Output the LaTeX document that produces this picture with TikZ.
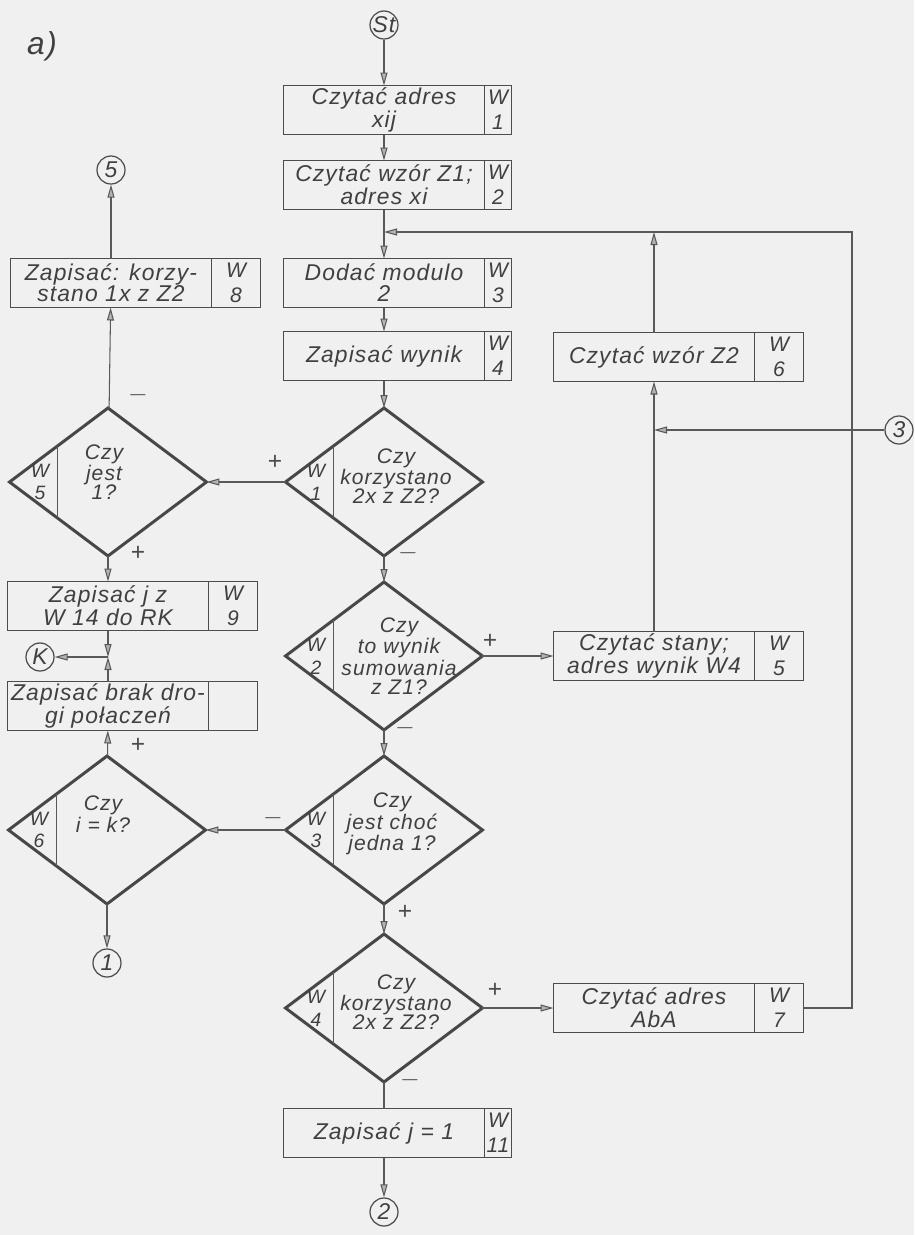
\documentclass[tikz,border=0pt]{standalone}
\usepackage{fontspec}
\setmainfont{Liberation Sans}[LetterSpace=5]
\usetikzlibrary{arrows.meta,positioning,shapes.geometric,calc}
\tikzset{
  hand/.style={font=\itshape\fontsize{13}{12}\selectfont,text=black!75},
  cellbox/.style={hand,rectangle,draw=black!70,line width=1.1pt,outer sep=0pt,minimum width=4.02cm,minimum height=0.98cm,align=center,inner sep=1pt},
  sidebox/.style={hand,font=\itshape\fontsize{12}{14}\selectfont,rectangle,draw=black!70,line width=1.1pt,outer sep=0pt,minimum width=0.98cm,minimum height=0.98cm,align=center,inner sep=0pt},
  narrowside/.style={sidebox,minimum width=0.54cm},
  decision/.style={diamond,draw=black!72,line width=1.7pt,outer sep=0pt,minimum width=3.94cm,minimum height=2.96cm,inner sep=0pt},
  asktext/.style={hand,font=\itshape\fontsize{12}{11}\selectfont,align=center,inner sep=0pt},
  wlabel/.style={hand,font=\itshape\fontsize{11}{13}\selectfont,align=center,inner sep=0pt},
  divider/.style={line width=0.8pt,draw=black!65},
  connector/.style={hand,circle,draw=black!70,line width=0.7pt,minimum size=0.56cm,inner sep=0pt},
  sign/.style={font=\fontsize{14}{14}\selectfont,text=black!70,inner sep=0pt},
  link/.style={line width=0.6pt,draw=black!65},
  arrow/.style={link,-{Triangle[length=2.6mm,width=1.4mm,fill=black!30]}}
}
\begin{document}
\begin{tikzpicture}[x=0.02cm,y=-0.02cm]
  \fill[black!6] (0,0) rectangle (914,1235);
  \useasboundingbox (0,0) rectangle (914,1235);

  \node[hand,font=\itshape\fontsize{18}{18}\selectfont] (fig) at (42,46) {a)};

  % main column
  \node[connector] (st) at (384,25) {St};
  \node[cellbox] (w1) at (384,110) {Czytać adres\\xij};
  \node[narrowside,right=0pt of w1] (w1s) {W\\1};
  \node[cellbox] (w2) at (384,185) {Czytać wzór Z1;\\adres xi};
  \node[narrowside,right=0pt of w2] (w2s) {W\\2};
  \coordinate (merge) at (384,232);
  \node[cellbox] (w3) at (384,283) {Dodać modulo\\2};
  \node[narrowside,right=0pt of w3] (w3s) {W\\3};
  \node[cellbox] (w4) at (384,356) {Zapisać wynik};
  \node[narrowside,right=0pt of w4] (w4s) {W\\4};

  \node[decision] (d1) at (384,482) {};
  \node[decision] (d2) at (384,656) {};
  \node[decision] (d3) at (384,830) {};
  \node[decision] (d4) at (384,1008) {};
  \node[cellbox] (w11) at (384,1133) {Zapisać j = 1};
  \node[narrowside,right=0pt of w11] (w11s) {W\\11};
  \node[connector] (c2) at (384,1212) {2};

  % left column
  \node[connector] (c5) at (111,170) {5};
  \node[cellbox] (w8) at (111,283) {Zapisać: korzy-\\stano 1x z Z2};
  \node[sidebox,right=0pt of w8] (w8s) {W\\8};
  \node[decision] (d5) at (108,482) {};
  \node[cellbox] (w9) at (108,606) {Zapisać j z\\W 14 do RK};
  \node[sidebox,right=0pt of w9] (w9s) {W\\9};
  \node[connector] (k) at (40,657) {K};
  \node[cellbox] (w10) at (108,706) {Zapisać brak dro-\\gi połaczeń};
  \node[sidebox,right=0pt of w10] (w10s) {};
  \node[decision] (d6) at (107,830) {};
  \node[connector] (c1) at (107,963) {1};

  % right column
  \node[cellbox] (w6) at (654,357) {Czytać wzór Z2};
  \node[sidebox,right=0pt of w6] (w6s) {W\\6};
  \node[connector] (c3) at (899,430) {3};
  \node[cellbox] (w5) at (654,656) {Czytać stany;\\adres wynik W4};
  \node[sidebox,right=0pt of w5] (w5s) {W\\5};
  \node[cellbox] (w7) at (654,1008) {Czytać adres\\AbA};
  \node[sidebox,right=0pt of w7] (w7s) {W\\7};
  \coordinate (rturn) at (852,1008);

  % diamond insides
  \foreach \d/\n in {d1/1,d2/2,d3/3,d4/4,d5/5,d6/6}{
    \draw[divider] ($(\d.west)!0.49!(\d.north)$) -- ($(\d.west)!0.49!(\d.south)$);
    \node[wlabel] (\d w) at ($(\d.center)+(-68,0)$) {W\\\n};
  }
  \node[asktext] (d1q) at ($(d1.center)+(12,-6)$) {Czy\\korzystano\\2x z Z2?};
  \node[asktext] (d2q) at ($(d2.center)+(15,0)$) {Czy\\to wynik\\sumowania\\z Z1?};
  \node[asktext] (d3q) at ($(d3.center)+(8,-6)$) {Czy\\jest choć\\jedna 1?};
  \node[asktext] (d4q) at ($(d4.center)+(12,-6)$) {Czy\\korzystano\\2x z Z2?};
  \node[asktext] (d5q) at ($(d5.center)+(-4,-10)$) {Czy\\jest\\1?};
  \node[asktext] (d6q) at ($(d6.center)+(-4,-16)$) {Czy\\i = k?};

  % signs
  \node[sign] (s1) at (275,462) {+};
  \node[sign] (s2) at (138,395) {$-$};
  \node[sign] (s3) at (138,553) {+};
  \node[sign] (s4) at (138,745) {+};
  \node[sign] (s5) at (408,553) {$-$};
  \node[sign] (s6) at (490,641) {+};
  \node[sign] (s7) at (405,728) {$-$};
  \node[sign] (s8) at (273,818) {$-$};
  \node[sign] (s9) at (405,912) {+};
  \node[sign] (s10) at (495,990) {+};
  \node[sign] (s11) at (410,1080) {$-$};

  % connections
  \draw[arrow] (st) -- (w1);
  \draw[arrow] (w1) -- (w2);
  \draw[link] (w2) -- (merge);
  \draw[arrow] (merge) -- (w3);
  \draw[arrow] (w3) -- (w4);
  \draw[arrow] (w4) -- (d1);
  \draw[arrow] (d1) -- (d5);
  \draw[arrow] (d5) -- (w8);
  \draw[arrow] (w8) -- (c5);
  \draw[arrow] (d5) -- (w9);
  \coordinate (kjoin) at (w9.south |- k);
  \draw[arrow] (w9) -- (kjoin);
  \draw[arrow] (w10) -- (kjoin);
  \draw[arrow] (kjoin) -- (k);
  \draw[arrow] (d6) -- (w10);
  \draw[arrow] (d6) -- (c1);
  \draw[arrow] (d1) -- (d2);
  \draw[arrow] (d2) -- (w5);
  \draw[arrow] (w5) -- (w6);
  \coordinate (join3) at (w6.south |- c3);
  \draw[arrow] (c3) -- (join3);
  \draw[arrow] (w6) -- (w6.north |- merge);
  \draw[arrow] (w7s) -- (rturn) |- (merge);
  \draw[arrow] (d2) -- (d3);
  \draw[arrow] (d3) -- (d6);
  \draw[arrow] (d3) -- (d4);
  \draw[arrow] (d4) -- (w7);
  \draw[link] (d4) -- (w11);
  \draw[arrow] (w11) -- (c2);
\end{tikzpicture}
\end{document}
